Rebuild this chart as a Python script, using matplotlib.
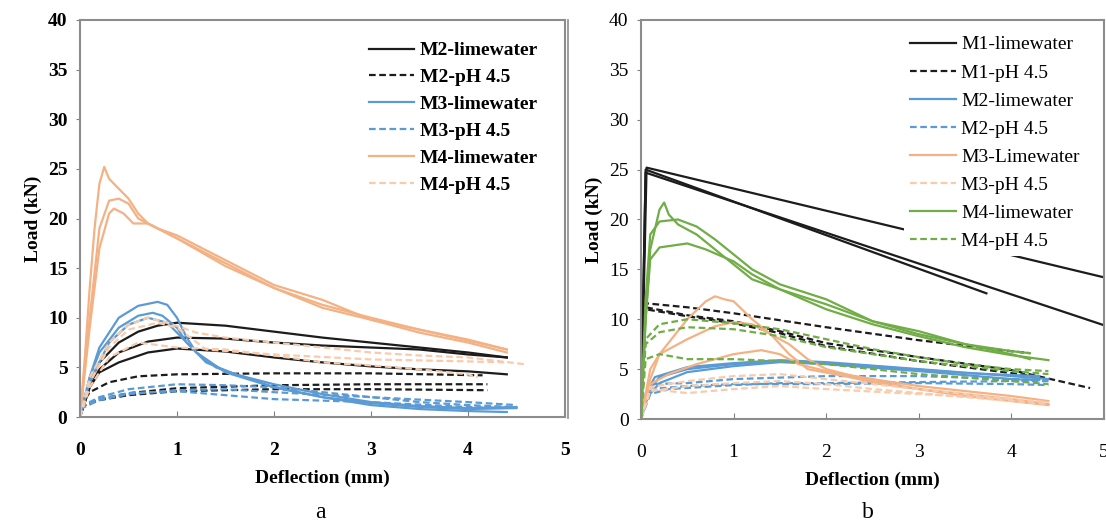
import matplotlib
matplotlib.use("Agg")
import matplotlib.pyplot as plt
from matplotlib.lines import Line2D

plt.rcParams['font.family'] = ['Liberation Serif', 'DejaVu Serif']

BLACK = "#1c1c1c"
BLUE = "#5b9bd5"
ORANGE = "#f4b183"
ORANGE_D = "#f8cbad"
GREEN = "#70ad47"

# ---- panel a : curves, (x list, y list) per specimen ----
a_m2_lime = [
    ([0, 0.05, 0.1, 0.2, 0.4, 0.6, 0.8, 1.0, 1.5, 2.0, 2.5, 3.0, 3.5, 4.0, 4.4],
     [0, 2.0, 3.5, 5.5, 7.5, 8.6, 9.2, 9.5, 9.2, 8.6, 8.0, 7.5, 7.0, 6.5, 6.0]),
    ([0, 0.1, 0.2, 0.4, 0.7, 1.0, 1.5, 2.0, 2.5, 3.0, 3.5, 4.0, 4.4],
     [0, 3.0, 4.8, 6.5, 7.6, 8.0, 7.9, 7.5, 7.2, 7.0, 6.8, 6.3, 6.0]),
    ([0, 0.1, 0.2, 0.4, 0.7, 1.0, 1.5, 2.0, 2.5, 3.0, 3.5, 4.0, 4.4],
     [0, 3.0, 4.5, 5.5, 6.5, 6.9, 6.6, 6.0, 5.5, 5.1, 4.8, 4.6, 4.3]),
]
a_m2_ph = [
    ([0, 0.1, 0.3, 0.6, 1.0, 2.0, 3.0, 4.15],
     [1.0, 2.5, 3.5, 4.1, 4.3, 4.4, 4.4, 4.2]),
    ([0, 0.2, 0.5, 1.0, 2.0, 3.0, 4.0, 4.2],
     [1.0, 1.8, 2.4, 2.9, 3.2, 3.3, 3.3, 3.3]),
    ([0, 0.2, 0.5, 1.0, 2.0, 3.0, 4.2],
     [1.0, 1.7, 2.2, 2.6, 2.8, 2.8, 2.7]),
]
a_m3_lime = [
    ([0, 0.1, 0.2, 0.4, 0.6, 0.8, 0.9, 1.0, 1.1, 1.2, 1.4, 1.7, 2.0, 2.5, 3.0, 3.5, 4.0, 4.4],
     [0, 4.0, 7.0, 10.0, 11.2, 11.6, 11.3, 10.0, 8.0, 6.5, 5.0, 4.0, 3.0, 2.0, 1.2, 0.8, 0.6, 0.5]),
    ([0, 0.1, 0.2, 0.4, 0.6, 0.75, 0.85, 1.0, 1.1, 1.3, 1.6, 2.0, 2.5, 3.0, 3.5, 4.0, 4.5],
     [0, 4.0, 6.5, 9.0, 10.2, 10.5, 10.2, 9.0, 7.5, 5.5, 4.3, 3.3, 2.3, 1.5, 1.1, 0.9, 1.0]),
    ([0, 0.1, 0.3, 0.5, 0.7, 0.9, 1.05, 1.2, 1.5, 2.0, 2.5, 3.0, 3.5, 4.0, 4.5],
     [0, 3.5, 7.5, 9.3, 10.0, 9.5, 8.0, 6.5, 4.5, 3.0, 2.0, 1.4, 1.0, 0.8, 0.9]),
]
a_m3_ph = [
    ([0, 0.2, 0.5, 1.0, 1.5, 2.0, 2.5, 3.0, 3.5, 4.0, 4.5],
     [1.0, 2.0, 2.8, 3.3, 3.2, 3.0, 2.5, 2.0, 1.5, 1.2, 1.0]),
    ([0, 0.2, 0.5, 1.0, 1.5, 2.0, 3.0, 4.0, 4.4],
     [1.0, 1.8, 2.4, 2.6, 2.2, 1.8, 1.5, 1.0, 0.9]),
    ([0, 0.2, 0.5, 1.0, 1.5, 2.0, 3.0, 4.0, 4.5],
     [0.8, 1.7, 2.3, 2.7, 2.8, 2.5, 2.0, 1.5, 1.2]),
]
a_m4_lime = [
    ([0, 0.05, 0.1, 0.15, 0.2, 0.25, 0.3, 0.4, 0.5, 0.6, 0.7, 1.0, 1.5, 2.0, 2.5, 3.0, 3.5, 4.0, 4.4],
     [0, 6.0, 13.0, 19.0, 23.5, 25.2, 24.0, 23.0, 22.0, 20.5, 19.5, 18.0, 15.5, 13.0, 11.3, 10.0, 8.8, 7.7, 6.8]),
    ([0, 0.1, 0.2, 0.3, 0.4, 0.5, 0.6, 0.8, 1.0, 1.5, 2.0, 2.5, 3.0, 3.5, 4.0, 4.4],
     [0, 10.0, 19.0, 21.8, 22.0, 21.5, 20.0, 19.0, 18.3, 15.8, 13.3, 11.8, 9.8, 8.8, 7.8, 6.8]),
    ([0, 0.1, 0.2, 0.3, 0.35, 0.45, 0.55, 0.7, 1.0, 1.5, 2.0, 2.5, 3.0, 3.5, 4.0, 4.4],
     [0, 9.0, 17.0, 20.5, 21.0, 20.5, 19.5, 19.5, 18.0, 15.2, 13.0, 11.0, 9.8, 8.5, 7.5, 6.5]),
]
a_m4_ph = [
    ([0, 0.1, 0.3, 0.5, 0.7, 0.9, 1.2, 1.5, 2.0, 2.5, 3.0, 3.5, 4.0, 4.6],
     [0, 4.0, 7.5, 9.3, 10.0, 9.5, 8.5, 8.0, 7.5, 7.0, 6.5, 6.2, 6.0, 5.3]),
    ([0, 0.1, 0.3, 0.6, 1.0, 1.5, 2.0, 2.5, 3.0, 3.5, 4.0, 4.1],
     [0, 3.0, 6.0, 7.5, 7.0, 6.8, 6.2, 5.5, 5.2, 4.8, 4.3, 4.0]),
    ([0, 0.1, 0.3, 0.5, 0.8, 1.0, 1.3, 2.0, 3.0, 4.0, 4.4],
     [0, 3.5, 7.0, 8.8, 9.5, 9.0, 6.8, 6.3, 5.8, 5.6, 5.5]),
]

# ---- panel b ----
b_m1_lime = [
    ([0, 0.06, 5.0], [0, 25.2, 14.2]),
    ([0, 0.05, 3.73], [0, 25.0, 12.6]),
    ([0, 0.05, 5.0], [0, 24.7, 9.4]),
]
b_m1_ph = [
    ([0, 0.05, 0.5, 1.0, 2.0, 3.0, 4.0, 4.2],
     [0, 11.6, 11.2, 10.6, 9.2, 7.9, 6.8, 6.6]),
    ([0, 0.05, 0.5, 1.0, 1.5, 2.0, 3.0, 4.0, 4.85],
     [0, 11.2, 10.4, 9.8, 8.8, 7.6, 6.2, 4.9, 3.1]),
    ([0, 0.05, 0.5, 1.0, 1.5, 2.0, 3.0, 4.0, 4.3],
     [0, 11.0, 10.3, 9.6, 8.6, 7.3, 5.8, 4.6, 4.2]),
]
b_m2_lime = [
    ([0, 0.05, 0.15, 0.5, 1.0, 1.5, 2.0, 3.0, 4.0, 4.4],
     [0, 2.5, 4.2, 5.2, 5.6, 5.9, 5.7, 5.0, 4.3, 4.0]),
    ([0, 0.05, 0.2, 0.5, 1.0, 1.5, 2.0, 3.0, 4.0, 4.3],
     [0, 2.0, 3.6, 4.7, 5.3, 5.7, 5.5, 4.8, 4.0, 3.9]),
    ([0, 0.1, 0.2, 0.5, 1.0, 1.6, 2.5, 3.5, 4.3],
     [0, 3.0, 4.2, 5.0, 5.5, 5.8, 5.3, 4.6, 4.3]),
]
b_m2_ph = [
    ([0, 0.1, 0.3, 1.0, 1.5, 2.0, 3.0, 4.0, 4.4],
     [0, 2.5, 3.0, 3.4, 3.6, 3.6, 3.7, 3.8, 3.8]),
    ([0, 0.1, 0.5, 1.0, 2.0, 3.0, 4.0, 4.4],
     [0, 3.5, 3.6, 4.0, 4.3, 4.3, 4.0, 3.9]),
    ([0, 0.1, 0.5, 1.0, 2.0, 3.0, 4.0, 4.4],
     [0, 3.0, 3.3, 3.5, 3.5, 3.6, 3.5, 3.4]),
]
b_m3_lime = [
    ([0, 0.1, 0.2, 0.5, 0.7, 0.8, 0.9, 1.0, 1.2, 1.4, 1.6, 1.8, 2.2, 2.6, 3.0, 3.5, 4.0, 4.4],
     [0, 4.0, 6.5, 10.0, 11.8, 12.3, 12.0, 11.8, 10.0, 8.5, 6.5, 5.0, 4.3, 3.5, 3.0, 2.5, 2.0, 1.5]),
    ([0, 0.1, 0.2, 0.5, 0.8, 1.0, 1.2, 1.4, 1.6, 1.8, 2.0, 2.5, 3.0, 3.5, 4.0, 4.4],
     [0, 5.0, 6.5, 8.0, 9.3, 9.7, 9.5, 8.5, 7.5, 6.0, 5.0, 3.8, 3.0, 2.3, 1.8, 1.4]),
    ([0, 0.1, 0.3, 0.6, 1.0, 1.3, 1.5, 1.7, 2.0, 2.5, 3.0, 3.5, 4.0, 4.4],
     [0, 3.5, 4.5, 5.5, 6.5, 6.9, 6.5, 5.5, 4.8, 4.0, 3.3, 2.8, 2.3, 1.8]),
]
b_m3_ph = [
    ([0, 0.1, 0.5, 1.0, 1.5, 2.0, 2.5, 3.0, 3.5, 4.0, 4.4],
     [0, 2.8, 3.3, 3.6, 3.8, 3.5, 3.0, 2.6, 2.2, 1.8, 1.5]),
    ([0, 0.1, 0.5, 1.0, 1.5, 2.0, 3.0, 4.0, 4.4],
     [0, 3.0, 2.6, 3.0, 3.3, 3.0, 2.5, 2.0, 1.7]),
    ([0, 0.1, 0.5, 1.0, 1.5, 2.0, 3.0, 4.0],
     [0, 3.2, 3.8, 4.3, 4.5, 4.0, 3.0, 2.0]),
]
b_m4_lime = [
    ([0, 0.05, 0.1, 0.2, 0.25, 0.3, 0.4, 0.6, 0.8, 1.0, 1.2, 1.5, 2.0, 2.5, 3.0, 3.5, 4.0, 4.2],
     [0, 10.0, 17.0, 21.0, 21.7, 20.5, 19.5, 18.5, 17.0, 15.5, 14.0, 13.0, 11.5, 9.8, 8.5, 7.5, 6.5, 6.0]),
    ([0, 0.05, 0.1, 0.2, 0.4, 0.6, 0.8, 1.0, 1.2, 1.5, 2.0, 2.5, 3.0, 3.5, 4.0, 4.2],
     [0, 12.0, 18.5, 19.8, 20.0, 19.3, 18.0, 16.5, 15.0, 13.5, 12.0, 9.8, 8.8, 7.5, 6.8, 6.6]),
    ([0, 0.05, 0.1, 0.2, 0.5, 0.7, 1.0, 1.2, 1.5, 2.0, 2.5, 3.0, 3.5, 4.0, 4.4],
     [0, 10.0, 16.0, 17.2, 17.6, 17.0, 15.8, 14.5, 13.0, 11.0, 9.5, 8.3, 7.2, 6.4, 5.9]),
]
b_m4_ph = [
    ([0, 0.05, 0.2, 0.5, 1.0, 1.5, 2.0, 2.5, 3.0, 3.5, 4.0, 4.4],
     [0, 8.0, 9.5, 10.0, 9.6, 9.0, 8.0, 7.0, 6.2, 5.5, 5.0, 4.8]),
    ([0, 0.05, 0.2, 0.5, 1.0, 1.5, 2.0, 3.0, 4.0, 4.4],
     [0, 7.5, 8.7, 9.2, 9.0, 8.3, 7.2, 5.8, 4.8, 4.5]),
    ([0, 0.05, 0.2, 0.5, 1.0, 1.5, 2.0, 3.0, 4.0, 4.4],
     [0, 6.0, 6.5, 6.0, 6.0, 5.8, 5.5, 4.5, 3.8, 3.5]),
]

a_series = [
    ("M2-limewater", a_m2_lime, BLACK, "-"),
    ("M2-pH 4.5", a_m2_ph, BLACK, "--"),
    ("M3-limewater", a_m3_lime, BLUE, "-"),
    ("M3-pH 4.5", a_m3_ph, BLUE, "--"),
    ("M4-limewater", a_m4_lime, ORANGE, "-"),
    ("M4-pH 4.5", a_m4_ph, ORANGE_D, "--"),
]
b_series = [
    ("M1-limewater", b_m1_lime, BLACK, "-"),
    ("M1-pH 4.5", b_m1_ph, BLACK, "--"),
    ("M2-limewater", b_m2_lime, BLUE, "-"),
    ("M2-pH 4.5", b_m2_ph, BLUE, "--"),
    ("M3-Limewater", b_m3_lime, ORANGE, "-"),
    ("M3-pH 4.5", b_m3_ph, ORANGE_D, "--"),
    ("M4-limewater", b_m4_lime, GREEN, "-"),
    ("M4-pH 4.5", b_m4_ph, GREEN, "--"),
]
x_ticks = [0, 1, 2, 3, 4, 5]
y_ticks = [0, 5, 10, 15, 20, 25, 30, 35, 40]

fig = plt.figure(figsize=(11.06, 5.25), dpi=100)
W, H = 1106, 525
ax_a = fig.add_axes([80 / W, (H - 417) / H, (565 - 80) / W, 397 / H])
ax_b = fig.add_axes([641 / W, (H - 419) / H, (1104 - 641) / W, 399 / H])


def draw(ax, series, weight, leg_anchor, spacing):
    handles = []
    for label, curves, color, ls in series:
        for xs, ys in curves:
            if ls == "--":
                ax.plot(xs, ys, color=color, lw=1.6, dashes=(3, 1.6))
            else:
                ax.plot(xs, ys, color=color, lw=1.6)
        if ls == "--":
            h = Line2D([], [], color=color, lw=1.6, dashes=(3, 1.6))
        else:
            h = Line2D([], [], color=color, lw=1.6)
        handles.append((h, label))
    ax.set_xlim(0, 5)
    ax.set_ylim(0, 40)
    ax.set_xticks(x_ticks)
    ax.set_yticks(y_ticks)
    ax.tick_params(axis="x", direction="in", length=4, color="#808080", pad=18, labelsize=14)
    ax.tick_params(axis="y", direction="out", length=3, color="#808080", pad=6, labelsize=14)
    for lab in ax.get_xticklabels() + ax.get_yticklabels():
        lab.set_fontweight(weight)
    for sp in ax.spines.values():
        sp.set_color("#8c8c8c")
        sp.set_linewidth(1.5)
    ax.set_xlabel("Deflection (mm)", fontsize=14, fontweight="bold", labelpad=8)
    ax.set_ylabel("Load (kN)", fontsize=14, fontweight="bold", labelpad=4)
    leg = ax.legend([h for h, _ in handles], [l for _, l in handles],
                    loc="upper left", bbox_to_anchor=leg_anchor,
                    prop={"size": 14, "weight": weight}, frameon=True,
                    facecolor="white", edgecolor="none", framealpha=1,
                    handlelength=2.35, handletextpad=0.3, labelspacing=spacing,
                    borderpad=0.3, borderaxespad=0, fancybox=False)
    leg.set_zorder(5)


draw(ax_a, a_series, "bold", (0.583, 0.96), 0.48)
draw(ax_b, b_series, "normal", (0.568, 0.975), 0.54)

fig.text(320 / W, 1 - 512 / H, "a", fontsize=17, ha="center", va="center")
fig.text(868 / W, 1 - 512 / H, "b", fontsize=17, ha="center", va="center")
fig.add_artist(Line2D([568 / W, 568 / W], [1 - 20 / H, 1 - 418 / H], color="#8c8c8c", lw=1.2))

fig.savefig("out.png", dpi=100)
